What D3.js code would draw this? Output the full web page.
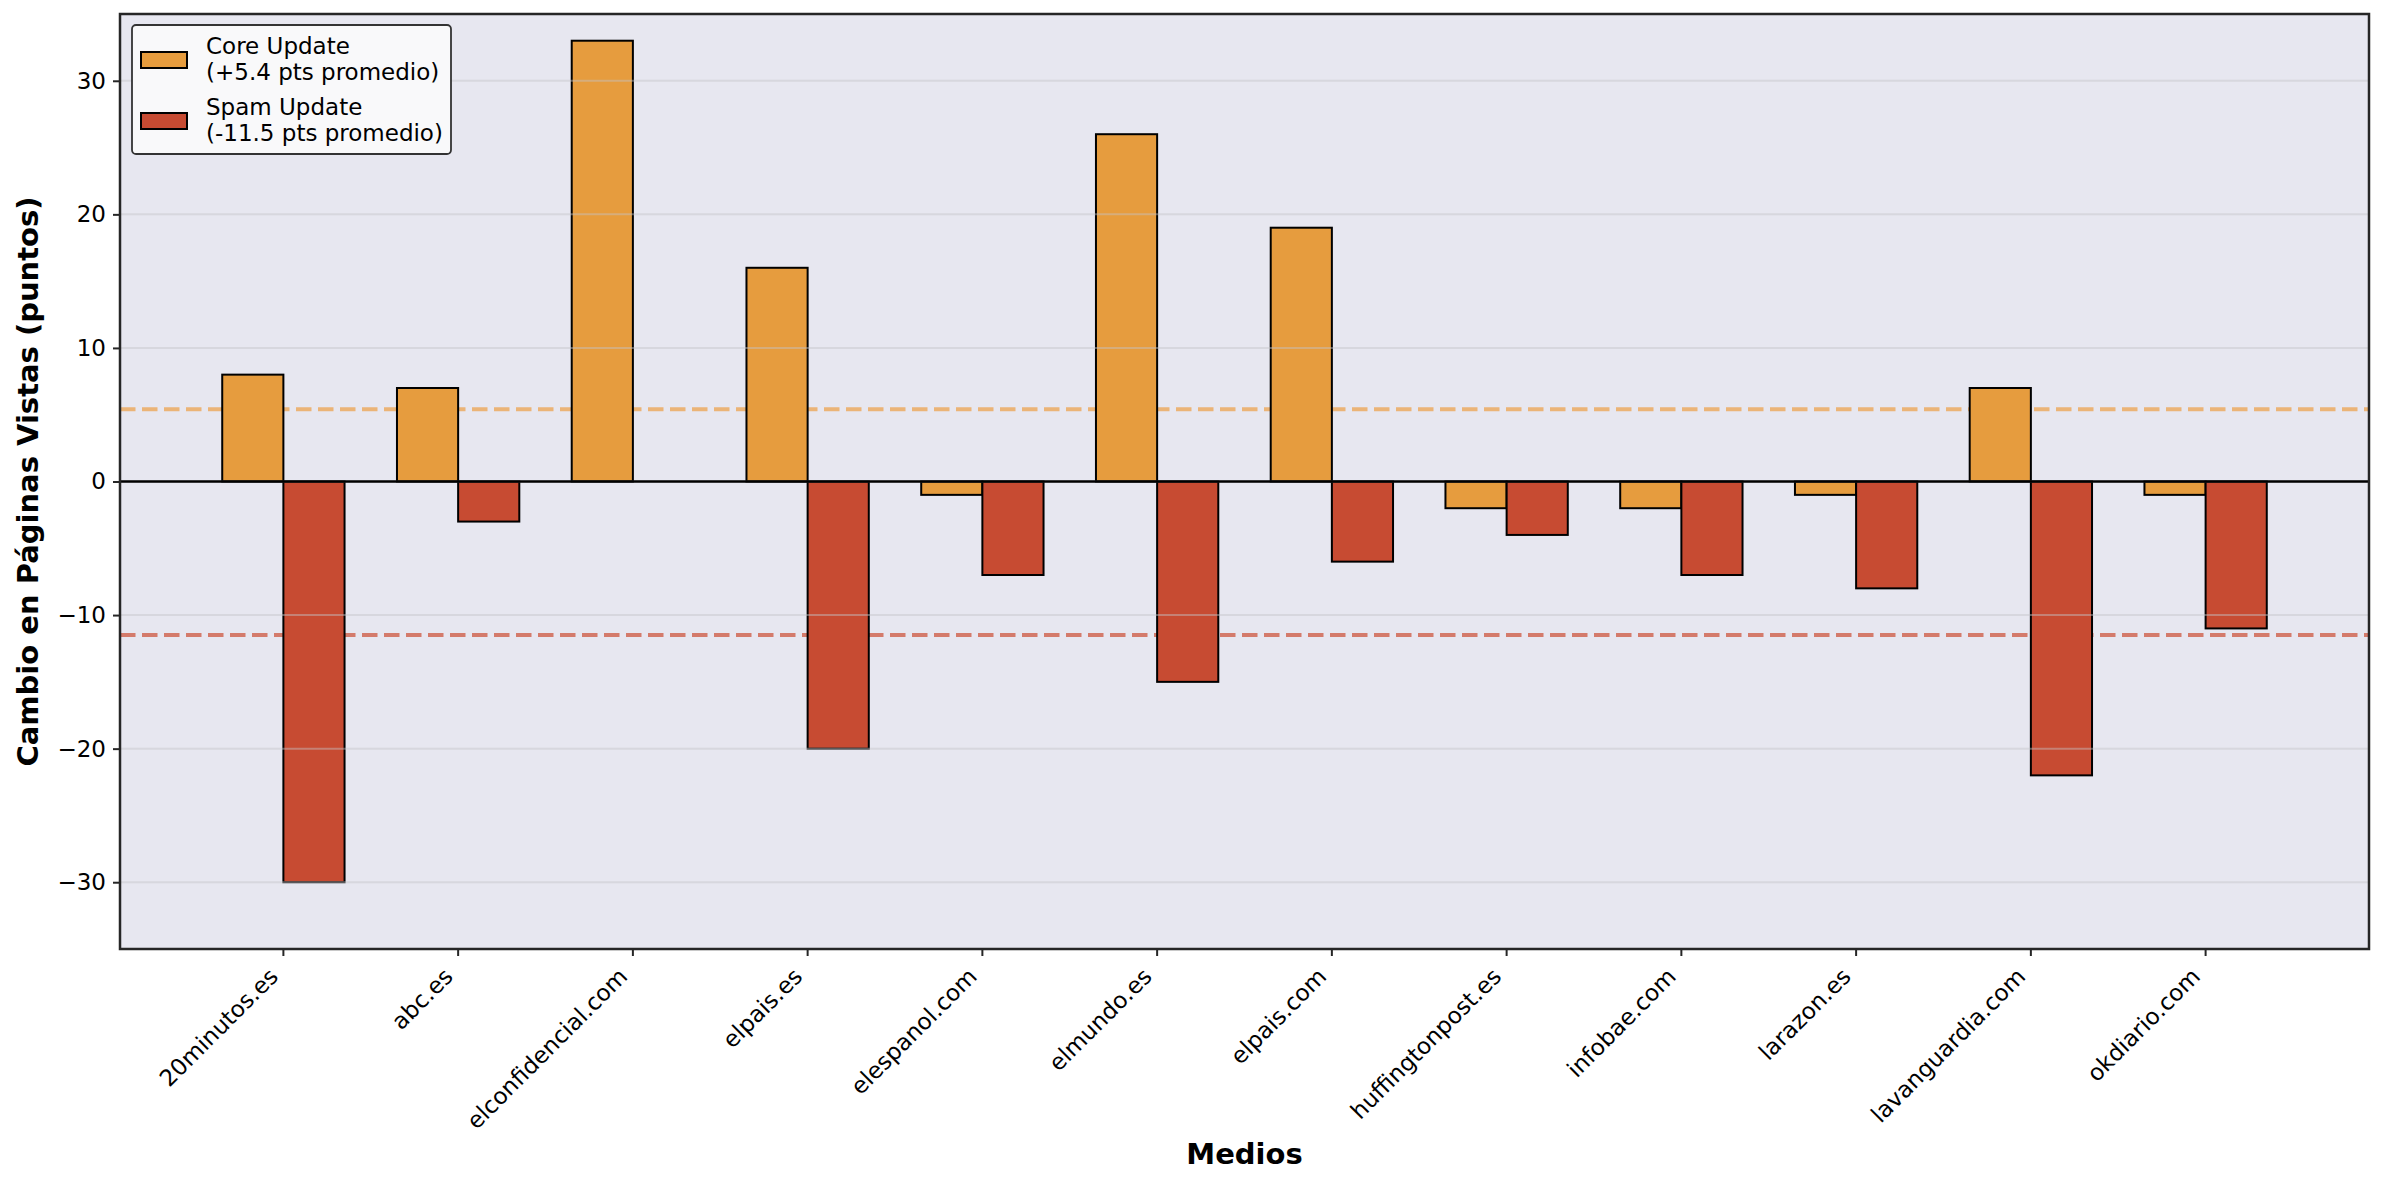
<!DOCTYPE html>
<html>
<head>
<meta charset="utf-8">
<script src="https://cdn.jsdelivr.net/npm/d3@7"></script>
<style>
  body { margin: 0; background: #fff; }
  text { font-family: "DejaVu Sans", sans-serif; }
</style>
</head>
<body>
<script>
const medios = ["20minutos.es", "abc.es", "elconfidencial.com", "elpais.es", "elespanol.com",
  "elmundo.es", "elpais.com", "huffingtonpost.es", "infobae.com", "larazon.es",
  "lavanguardia.com", "okdiario.com"];
const coreValues = [8, 7, 33, 16, -1, 26, 19, -2, -2, -1, 7, -1];
const spamValues = [-30, -3, 0, -20, -7, -15, -6, -4, -7, -8, -22, -11];
const coreMean = 5.4;
const spamMean = -11.5;
const yTicks = [-30, -20, -10, 0, 10, 20, 30];
const legendLabels = [["Core Update", "(+5.4 pts promedio)"], ["Spam Update", "(-11.5 pts promedio)"]];

const width = 2384, height = 1183;
const margin = { left: 120, right: 15, top: 14, bottom: 234 };
const coreColor = "#E69C3E", spamColor = "#C74B32";

const svg = d3.select("body").append("svg")
  .attr("width", width)
  .attr("height", height);

const x = d3.scaleBand()
  .domain(medios)
  .range([margin.left, width - margin.right])
  .paddingInner(0)
  .paddingOuter(0.435);

const y = d3.scaleLinear()
  .domain([-35, 35])
  .range([height - margin.bottom, margin.top]);

const step = x.step();
const barW = step * 0.35;
const cx = d => x(d) + step / 2;

// plot background
svg.append("rect")
  .attr("x", margin.left)
  .attr("y", margin.top)
  .attr("width", width - margin.left - margin.right)
  .attr("height", height - margin.top - margin.bottom)
  .attr("fill", "#E7E7F0");

// mean lines (behind bars)
svg.append("line")
  .attr("x1", margin.left).attr("x2", width - margin.right)
  .attr("y1", y(coreMean)).attr("y2", y(coreMean))
  .attr("stroke", "#EBB477").attr("stroke-width", 4)
  .attr("stroke-dasharray", "15.5,6.5");
svg.append("line")
  .attr("x1", margin.left).attr("x2", width - margin.right)
  .attr("y1", y(spamMean)).attr("y2", y(spamMean))
  .attr("stroke", "#D47B6B").attr("stroke-width", 4)
  .attr("stroke-dasharray", "15.5,6.5");

// bars
svg.append("g").selectAll("rect")
  .data(medios)
  .enter()
  .append("rect")
  .attr("x", d => cx(d) - barW)
  .attr("y", (d, i) => y(Math.max(0, coreValues[i])))
  .attr("width", barW)
  .attr("height", (d, i) => Math.abs(y(coreValues[i]) - y(0)))
  .attr("fill", coreColor)
  .attr("stroke", "#000")
  .attr("stroke-width", 2);

svg.append("g").selectAll("rect")
  .data(medios)
  .enter()
  .append("rect")
  .attr("x", d => cx(d))
  .attr("y", (d, i) => y(Math.max(0, spamValues[i])))
  .attr("width", barW)
  .attr("height", (d, i) => Math.abs(y(spamValues[i]) - y(0)))
  .attr("fill", spamColor)
  .attr("stroke", "#000")
  .attr("stroke-width", 2);

// grid on top, faint
svg.append("g").selectAll("line")
  .data(yTicks)
  .enter()
  .append("line")
  .attr("x1", margin.left).attr("x2", width - margin.right)
  .attr("y1", d => y(d)).attr("y2", d => y(d))
  .attr("stroke", "#c4c4c8")
  .attr("stroke-opacity", 0.45)
  .attr("stroke-width", 2);

// zero line
svg.append("line")
  .attr("x1", margin.left).attr("x2", width - margin.right)
  .attr("y1", y(0)).attr("y2", y(0))
  .attr("stroke", "#000").attr("stroke-width", 2.5);

// frame
svg.append("rect")
  .attr("x", margin.left)
  .attr("y", margin.top)
  .attr("width", width - margin.left - margin.right)
  .attr("height", height - margin.top - margin.bottom)
  .attr("fill", "none")
  .attr("stroke", "#262626")
  .attr("stroke-width", 2.5);

// y axis
const yAxis = svg.append("g")
  .attr("transform", `translate(${margin.left},0)`)
  .call(d3.axisLeft(y).tickValues(yTicks).tickSize(7).tickPadding(7));
yAxis.select(".domain").remove();
yAxis.selectAll(".tick line").attr("stroke", "#262626").attr("stroke-width", 2);
yAxis.selectAll(".tick text")
  .attr("font-size", 23)
  .attr("fill", "#000")
  .style("font-family", "DejaVu Sans");

// x axis
const xAxis = svg.append("g")
  .attr("transform", `translate(0,${height - margin.bottom})`)
  .call(d3.axisBottom(x).tickSize(7).tickPadding(0));
xAxis.select(".domain").remove();
xAxis.selectAll(".tick line").attr("stroke", "#262626").attr("stroke-width", 2);
xAxis.selectAll(".tick text")
  .attr("font-size", 23)
  .attr("fill", "#000")
  .style("font-family", "DejaVu Sans")
  .attr("text-anchor", "end")
  .attr("dy", null)
  .attr("y", null)
  .attr("transform", "translate(-4,29) rotate(-45)");

// axis titles
svg.append("text")
  .attr("x", (margin.left + width - margin.right) / 2)
  .attr("y", 1164)
  .attr("text-anchor", "middle")
  .attr("font-size", 29)
  .attr("font-weight", "bold")
  .text("Medios");

svg.append("text")
  .attr("transform", `translate(38,${(margin.top + height - margin.bottom) / 2}) rotate(-90)`)
  .attr("text-anchor", "middle")
  .attr("font-size", 29)
  .attr("font-weight", "bold")
  .text("Cambio en Páginas Vistas (puntos)");

// legend
const legend = svg.append("g").attr("transform", "translate(132,25)");
legend.append("rect")
  .attr("width", 319)
  .attr("height", 129)
  .attr("rx", 4)
  .attr("fill", "#F9F9FA")
  .attr("stroke", "#333")
  .attr("stroke-width", 1.8);

const entries = legend.selectAll(".entry")
  .data(legendLabels)
  .enter()
  .append("g")
  .attr("class", "entry")
  .attr("transform", (d, i) => `translate(0,${i * 61})`);

entries.append("rect")
  .attr("x", 9)
  .attr("y", 27)
  .attr("width", 46)
  .attr("height", 16)
  .attr("fill", (d, i) => i === 0 ? coreColor : spamColor)
  .attr("stroke", "#000")
  .attr("stroke-width", 2);

entries.append("text")
  .attr("x", 74)
  .attr("font-size", 23)
  .attr("fill", "#000")
  .selectAll("tspan")
  .data(d => d)
  .enter()
  .append("tspan")
  .attr("x", 74)
  .attr("y", (t, j) => 29 + j * 25.7)
  .text(t => t);
</script>
</body>
</html>
